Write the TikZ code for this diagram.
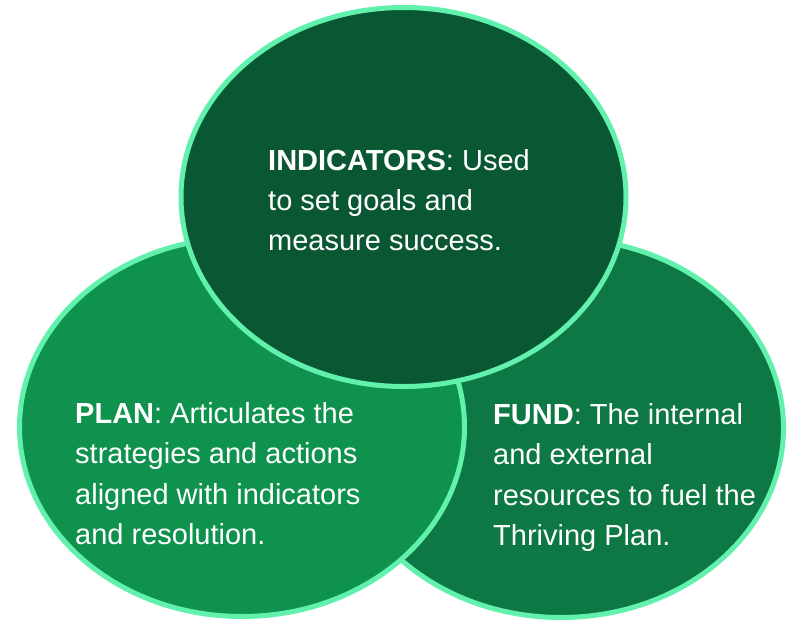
\documentclass[tikz,border=0pt]{standalone}
\usepackage{fontspec}
\setmainfont{Liberation Sans}
\usetikzlibrary{shapes.geometric}
\definecolor{rim}{HTML}{62F0AD}
\definecolor{topfill}{HTML}{0A5733}
\definecolor{leftfill}{HTML}{10924F}
\definecolor{rightfill}{HTML}{0D7843}
\tikzset{
  blob/.style={ellipse, draw=rim, line width=5pt, minimum width=445pt, minimum height=379pt, inner sep=0pt},
  txt/.style={anchor=base west, inner sep=0pt, text=white, font=\fontsize{29}{40}\selectfont}
}
\begin{document}
\begin{tikzpicture}[x=1pt,y=-1pt]
\useasboundingbox (0,0) rectangle (792,622);
\node[blob, fill=rightfill] (fund) at (561,428) {};
\node[blob, fill=leftfill] (plan) at (242,427) {};
\node[blob, fill=topfill] (ind) at (403.5,197) {};
% INDICATORS text
\node[txt] (i1) at (268,170) {\textbf{INDICATORS}: Used};
\node[txt] (i2) at (268,210) {to set goals and};
\node[txt] (i3) at (268,250) {measure success.};
% PLAN text
\node[txt] (p1) at (75,423) {\textbf{PLAN}: Articulates the};
\node[txt] (p2) at (75,463.5) {strategies and actions};
\node[txt] (p3) at (75,504) {aligned with indicators};
\node[txt] (p4) at (75,544.5) {and resolution.};
% FUND text
\node[txt] (f1) at (493,424) {\textbf{FUND}: The internal};
\node[txt] (f2) at (493,464.5) {and external};
\node[txt] (f3) at (493,505) {resources to fuel the};
\node[txt] (f4) at (493,545.5) {Thriving Plan.};
\end{tikzpicture}
\end{document}
